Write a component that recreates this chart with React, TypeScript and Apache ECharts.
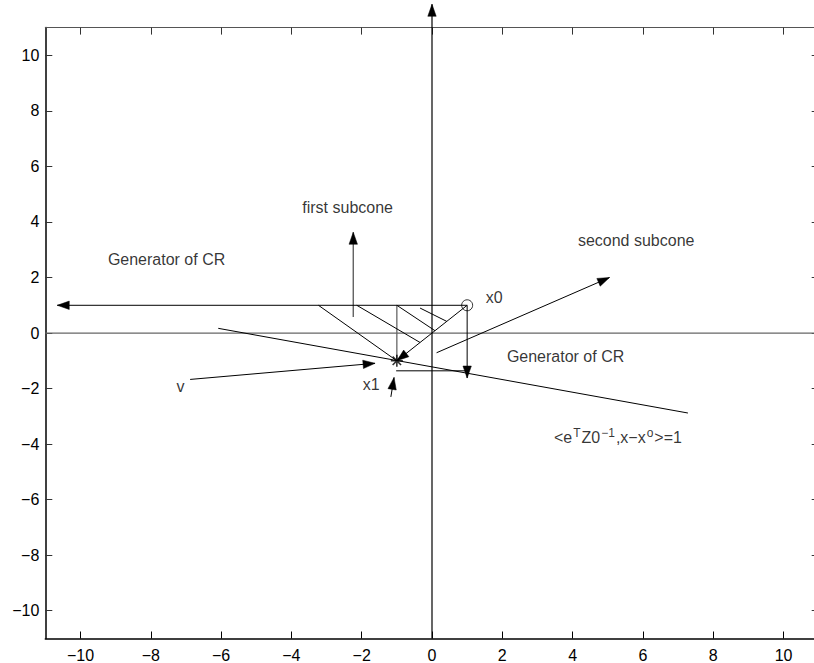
import React, { useEffect, useRef } from "react";
import * as echarts from "echarts";

// Tick values
const xTicks = [-10, -8, -6, -4, -2, 0, 2, 4, 6, 8, 10];
const yTicks = [-10, -8, -6, -4, -2, 0, 2, 4, 6, 8, 10];

// Points
const x0Point = [1, 1];
const x1Point = [-1, -1];

// Segments [xStart, yStart, xEnd, yEnd]
const axisArrow = [[0, -11, 0, 11.84]];
const blackArrows = [
  [1, 1, -10.66, 1], // generator of CR (left)
  [1, 1, -1, -1], // x0 -> x1
  [1, 1, 1, -1.62], // downward from x0
  [0.13, -0.71, 5.05, 2.0], // second subcone
  [-6.88, -1.67, -1.62, -1.09], // v
  [-1.17, -2.3, -1.08, -1.6], // small arrow under x1
];
const grayArrows = [
  [-2.24, 0.58, -2.24, 3.63], // first subcone
];
const blackLines = [
  [-6.08, 0.17, 7.28, -2.88], // hyperplane
  [-3.23, 1, -1, -1], // hatch 1
  [-2.14, 1, -0.34, -0.34], // hatch 2
  [-1.0, 1, 0.085, 0.085], // hatch 3
  [-0.34, 0.9, 0.42, 0.42], // hatch 4
  [-1.02, -1.36, 0.99, -1.36], // short horizontal
];
const grayLines = [
  [-11, 0, 11, 0], // y = 0 line
  [-1, 1, -1, -1], // x = -1 vertical
];

// Text annotations: [x, y, text]
const notes: [number, number, string][] = [
  [-3.69, 4.53, "first subcone"],
  [4.15, 3.34, "second subcone"],
  [-9.22, 2.66, "Generator of CR"],
  [1.53, 1.29, "x0"],
  [2.13, -0.83, "Generator of CR"],
  [-7.27, -1.91, "v"],
  [-1.97, -1.84, "x1"],
];
const formulaPos = [3.47, -3.72];

const FONT = "'Liberation Sans', Arial, Helvetica, sans-serif";

function segSeries(data: number[][], color: string, width: number, head: boolean, clip: boolean) {
  return {
    type: "custom",
    coordinateSystem: "cartesian2d",
    clip,
    silent: true,
    data,
    encode: { x: [0, 2], y: [1, 3] },
    renderItem: (_params: any, api: any) => {
      const p1 = api.coord([api.value(0), api.value(1)]);
      const p2 = api.coord([api.value(2), api.value(3)]);
      const children: any[] = [
        {
          type: "line",
          shape: { x1: p1[0], y1: p1[1], x2: p2[0], y2: p2[1] },
          style: { stroke: color, lineWidth: width, fill: null },
        },
      ];
      if (head) {
        const dx = p2[0] - p1[0];
        const dy = p2[1] - p1[1];
        const len = Math.hypot(dx, dy) || 1;
        const ux = dx / len;
        const uy = dy / len;
        const L = 12;
        const W = 4.2;
        const bx = p2[0] - ux * L;
        const by = p2[1] - uy * L;
        children.push({
          type: "polygon",
          shape: {
            points: [
              [p2[0], p2[1]],
              [bx - uy * W, by + ux * W],
              [bx + uy * W, by - ux * W],
            ],
          },
          style: { fill: "#000", stroke: "#000", lineWidth: 0.5 },
        });
      }
      return { type: "group", children };
    },
  };
}

const tickFmt = (v: number) => String(v).replace("-", "\u2212");

export default function App() {
  const ref = useRef<HTMLDivElement>(null);
  useEffect(() => {
    if (!ref.current) return;
    const chart = echarts.init(ref.current, null, { renderer: "svg" });
    const axisCommon = {
      type: "value",
      min: -11,
      max: 11,
      splitLine: { show: false },
    };
    const option: any = {
      animation: false,
      backgroundColor: "#fff",
      textStyle: { fontFamily: FONT },
      grid: {
        left: 45.3,
        right: -4.7,
        top: 27.6,
        bottom: 24.5,
        containLabel: false,
        outerBoundsMode: "none",
      },
      xAxis: [
        {
          ...axisCommon,
          position: "bottom",
          axisLine: { onZero: false, lineStyle: { color: "#000", width: 1.5 } },
          axisTick: { inside: true, length: 7, customValues: xTicks, lineStyle: { color: "#000", width: 1 } },
          axisLabel: {
            customValues: xTicks,
            formatter: tickFmt,
            fontSize: 16,
            color: "#000",
            margin: 9,
            fontFamily: FONT,
          },
        },
        {
          ...axisCommon,
          position: "top",
          axisLine: { onZero: false, lineStyle: { color: "#555", width: 1 } },
          axisTick: { inside: true, length: 7, customValues: xTicks, lineStyle: { color: "#333", width: 1 } },
          axisLabel: { show: false },
        },
      ],
      yAxis: [
        {
          ...axisCommon,
          position: "left",
          axisLine: { onZero: false, lineStyle: { color: "#000", width: 1.5 } },
          axisTick: { inside: true, length: 7, customValues: yTicks, lineStyle: { color: "#333", width: 1 } },
          axisLabel: {
            customValues: yTicks,
            formatter: tickFmt,
            fontSize: 16,
            color: "#000",
            margin: 6,
            fontFamily: FONT,
          },
        },
        {
          ...axisCommon,
          position: "right",
          axisLine: { onZero: false, lineStyle: { color: "#000", width: 1 } },
          axisTick: { inside: true, length: 7, customValues: yTicks, lineStyle: { color: "#333", width: 1 } },
          axisLabel: { show: false },
        },
      ],
      series: [
        segSeries(grayLines, "#666", 1.3, false, true),
        segSeries(blackLines, "#000", 1, false, true),
        segSeries(grayArrows, "#555", 1.3, true, true),
        segSeries(blackArrows, "#000", 1, true, true),
        segSeries(axisArrow, "#000", 1.2, true, false),
        {
          type: "scatter",
          silent: true,
          data: [x0Point],
          symbol: "circle",
          symbolSize: 11,
          itemStyle: { color: "rgba(0,0,0,0)", borderColor: "#000", borderWidth: 1 },
          z: 5,
        },
        {
          type: "scatter",
          silent: true,
          data: [x1Point],
          symbol: "path://M5 0 L5 10 M0 5 L10 5 M1.5 1.5 L8.5 8.5 M1.5 8.5 L8.5 1.5",
          symbolSize: 12,
          itemStyle: { color: "none", borderColor: "#000", borderWidth: 1.6 },
          z: 5,
        },
        {
          type: "scatter",
          silent: true,
          symbolSize: 0,
          z: 6,
          label: {
            show: true,
            position: "right",
            distance: 0,
            color: "#000",
            fontSize: 16,
            fontFamily: FONT,
            formatter: (p: any) => p.name,
          },
          data: [
            ...notes.map((n) => ({ value: [n[0], n[1]], name: n[2] })),
            {
              value: formulaPos,
              name: "formula",
              label: {
                formatter: "{m|<e}{s|T}{m|Z0}{s|\u22121}{m|,x\u2212x}{s|o}{m|>=1}",
                rich: {
                  m: { fontSize: 16, lineHeight: 19, verticalAlign: "bottom", color: "#000", fontFamily: FONT },
                  s: {
                    fontSize: 12,
                    lineHeight: 12,
                    verticalAlign: "top",
                    color: "#000",
                    fontFamily: FONT,
                    padding: [0, 1, 0, 1],
                  },
                },
              },
            },
          ],
        },
      ],
    };
    chart.setOption(option);
    return () => chart.dispose();
  }, []);
  return (
    <div
      ref={ref}
      style={{ position: "absolute", left: 0, top: 0, width: 814, height: 663, overflow: "hidden" }}
    />
  );
}
